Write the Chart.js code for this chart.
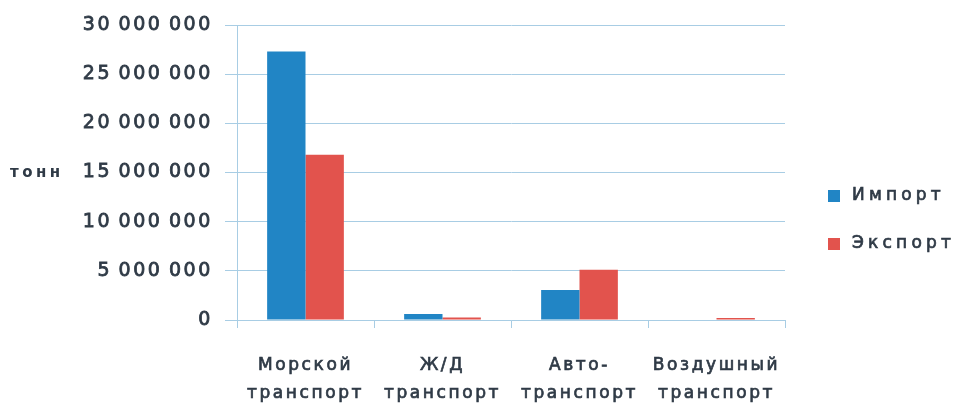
<!DOCTYPE html>
<html>
<head>
<meta charset="utf-8">
<script src="https://cdn.jsdelivr.net/npm/chart.js@4/dist/chart.umd.min.js"></script>
<style>
  html, body { margin: 0; padding: 0; background: #ffffff; }
  #wrap { width: 955px; height: 410px; position: relative; }
</style>
</head>
<body>
<div id="wrap"><canvas id="c" width="955" height="410"></canvas></div>
<script>
// Грузооборот по видам транспорта, тонн
const categories = [
  ['Морской', 'транспорт'],
  ['Ж/Д', 'транспорт'],
  ['Авто-', 'транспорт'],
  ['Воздушный', 'транспорт']
];
const importTons = [27300000, 600000, 3050000, 0];
const exportTons = [16800000, 250000, 5100000, 200000];
const yTicks = [0, 5000000, 10000000, 15000000, 20000000, 25000000, 30000000];
const seriesNames = ['Импорт', 'Экспорт'];
const axisUnit = 'тонн';

const BLUE = '#2185c5';
const RED = '#e2534d';
const GRID = '#a8cde4';
const TEXT = '#2f3a46';
const FONT = '"DejaVu Sans", sans-serif';

// thousands grouped with a thin space
function fmt(v) {
  return String(v).replace(/\B(?=(\d{3})+(?!\d))/g, '\u2009');
}

// wide letter spacing for all canvas text
const spacing = {
  id: 'spacing',
  beforeUpdate(chart) { chart.ctx.letterSpacing = '2.6px'; },
  beforeDraw(chart) { chart.ctx.letterSpacing = '2.6px'; }
};

function heavyText(ctx, text, x, y, w) {
  ctx.lineWidth = w;
  ctx.strokeStyle = ctx.fillStyle;
  ctx.strokeText(text, x, y);
  ctx.fillText(text, x, y);
}

// unit caption left of the value axis and the legend on the right
const extras = {
  id: 'extras',
  afterDraw(chart) {
    const ctx = chart.ctx;
    const y = chart.scales.y;
    ctx.save();
    ctx.letterSpacing = '3.5px';
    ctx.fillStyle = TEXT;
    ctx.font = 'bold 15px ' + FONT;
    ctx.textBaseline = 'middle';
    ctx.textAlign = 'left';
    ctx.fillText(axisUnit, 10, y.getPixelForValue(15000000) + 1);

    const items = chart.data.datasets;
    ctx.font = '17px ' + FONT;
    ctx.letterSpacing = '4.2px';
    items.forEach((ds, i) => {
      const cy = 196 + i * 48;
      ctx.fillStyle = ds.backgroundColor;
      ctx.fillRect(828, cy - 6, 12, 12);
      ctx.fillStyle = TEXT;
      heavyText(ctx, ds.label, 852, cy, 0.7);
    });
    ctx.restore();
  }
};

new Chart(document.getElementById('c'), {
  type: 'bar',
  data: {
    labels: categories,
    datasets: [
      { label: seriesNames[0], data: importTons, backgroundColor: BLUE },
      { label: seriesNames[1], data: exportTons, backgroundColor: RED }
    ]
  },
  options: {
    responsive: false,
    animation: false,
    layout: { padding: { top: 25, right: 170, bottom: 0, left: 0 } },
    datasets: { bar: { categoryPercentage: 0.56, barPercentage: 1.0 } },
    plugins: {
      legend: { display: false },
      tooltip: { enabled: false }
    },
    scales: {
      x: {
        grid: {
          display: true,
          drawOnChartArea: false,
          drawTicks: true,
          tickLength: 8,
          color: GRID,
          offset: true
        },
        border: { display: true, color: GRID, width: 1 },
        ticks: {
          color: TEXT,
          textStrokeColor: TEXT,
          textStrokeWidth: 0.7,
          font: { family: FONT, size: 17, lineHeight: 1.65 },
          padding: 24,
          maxRotation: 0,
          autoSkip: false
        },
        afterFit(scale) { scale.height = 90; }
      },
      y: {
        min: 0,
        max: 30000000,
        afterBuildTicks(scale) { scale.ticks = yTicks.map(v => ({ value: v })); },
        grid: { color: GRID, tickLength: 12, lineWidth: 1 },
        border: { display: true, color: GRID, width: 1 },
        ticks: {
          color: TEXT,
          textStrokeColor: TEXT,
          textStrokeWidth: 0.8,
          font: { family: FONT, size: 19 },
          padding: 12,
          callback: v => fmt(v)
        },
        afterFit(scale) { scale.width = 237; }
      }
    }
  },
  plugins: [spacing, extras]
});
</script>
</body>
</html>
